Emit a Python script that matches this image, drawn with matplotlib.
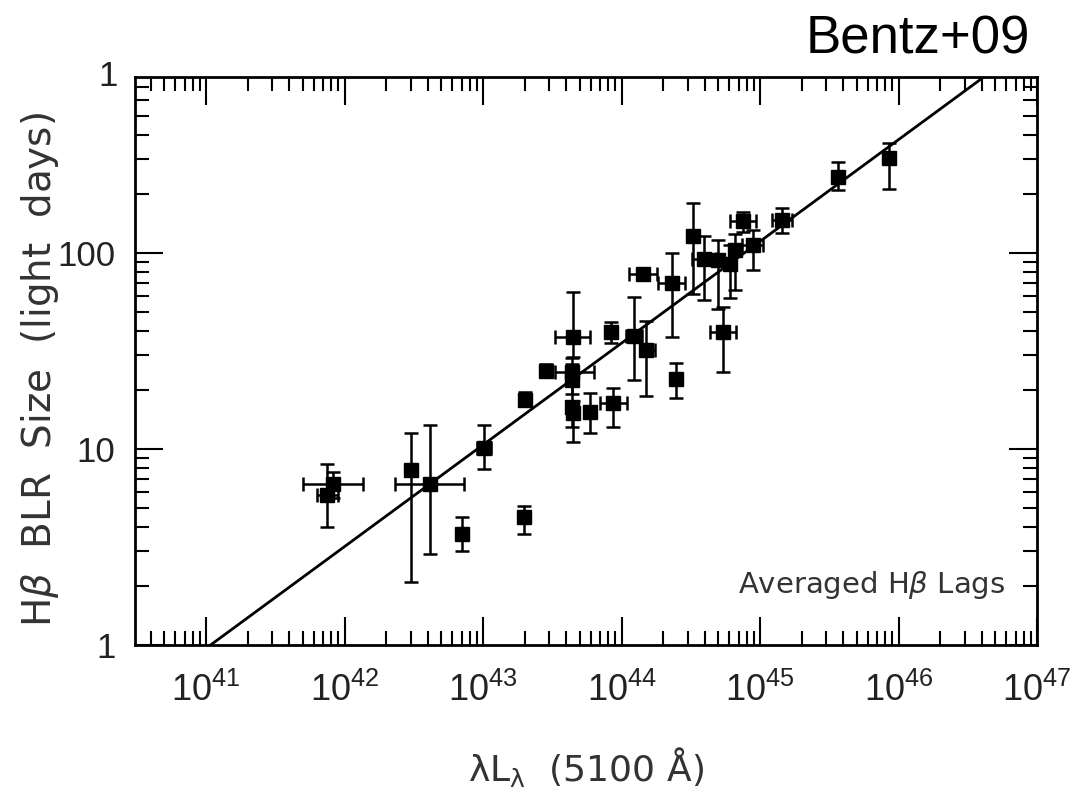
import numpy as np
import matplotlib
matplotlib.use("Agg")
import matplotlib.pyplot as plt
from matplotlib import font_manager
from matplotlib.ticker import LogLocator, FixedLocator, NullFormatter

# ---------------- data ----------------
log_lum = [41.871, 41.915, 42.478, 42.617, 43.007, 42.846, 43.296, 43.30, 43.455,
           43.647, 43.64, 43.645, 43.645, 43.65, 43.773, 43.936, 43.924, 44.09,
           44.18, 44.394, 44.157, 44.363, 44.518, 44.596, 44.699, 44.78, 44.82,
           44.73, 44.88, 44.947, 45.157, 45.566, 45.933]
lag = [5.8, 6.6, 7.8, 6.6, 10.1, 3.7, 4.5, 17.8, 25.1,
       37.4, 24.8, 22.5, 16.4, 15.3, 15.5, 17.2, 39.7, 37.7,
       32.0, 22.7, 78.0, 70.0, 122.0, 93.0, 92.0, 88.0, 103.6,
       39.7, 145.0, 110.0, 147.0, 245.0, 304.0]
lag_lo = [4.0, 5.6, 2.1, 2.9, 7.9, 3.0, 3.7, 16.5, 23.5,
          29.6, 21.0, 19.0, 13.0, 10.9, 12.1, 13.0, 34.9, 22.5,
          18.6, 18.1, 74.0, 37.4, 62.0, 57.5, 51.6, 58.7, 64.7,
          24.8, 128.0, 82.0, 127.0, 210.0, 211.0]
lag_hi = [8.4, 7.6, 12.0, 13.3, 13.3, 4.5, 5.1, 19.5, 27.0,
          63.0, 29.0, 27.0, 21.0, 17.5, 19.3, 20.4, 44.5, 59.7,
          45.0, 27.4, 83.0, 99.6, 180.0, 122.0, 116.0, 110.0, 125.0,
          53.2, 162.0, 131.0, 169.0, 292.0, 365.0]
log_lum_lo = [41.80, 41.70, None, 42.365, 42.96, None, None, None, 43.42,
              43.52, 43.52, None, None, 43.61, None, 43.845, 43.89, 44.03,
              44.13, None, 44.056, 44.26, None, 44.51, None, None, None,
              44.64, 44.78, 44.87, 45.085, None, None]
log_lum_hi = [41.95, 42.13, None, 42.863, 43.06, None, None, None, 43.50,
              43.77, 43.80, None, None, 43.69, None, 44.04, 43.96, 44.15,
              44.24, None, 44.258, 44.46, None, 44.68, None, None, None,
              44.83, 44.97, 45.02, 45.23, None, None]

fit_K = 1.54      # log lag at 1e44 erg/s
fit_alpha = 0.519
fit_pivot = 44.0

x_ticks = [1e41, 1e42, 1e43, 1e44, 1e45, 1e46, 1e47]
x_tick_labels = ["41", "42", "43", "44", "45", "46", "47"]
y_ticks = [1, 10, 100]
y_tick_labels = ["1", "10", "100"]

# ---------------- fonts ----------------
avail = {f.name for f in font_manager.fontManager.ttflist}
narrow = "Liberation Sans Narrow" if "Liberation Sans Narrow" in avail else "Liberation Sans"

fig = plt.figure(figsize=(10.76, 7.93), dpi=100)
ax = fig.add_axes([135 / 1076, 1 - 645 / 793, (1037 - 135) / 1076, (645 - 77) / 793])
ax.set_xscale("log")
ax.set_yscale("log")
ax.set_xlim(3.07e40, 1e47)
ax.set_ylim(1, 790)

L = 10 ** np.array(log_lum)
R = np.array(lag)
ylo = R - np.array(lag_lo)
yhi = np.array(lag_hi) - R

has_x = np.array([v is not None for v in log_lum_lo])
xl = np.array([10 ** v if v is not None else np.nan for v in log_lum_lo])
xh = np.array([10 ** v if v is not None else np.nan for v in log_lum_hi])

kw = dict(fmt="s", color="black", ms=10.5, capsize=5, elinewidth=1.8,
          capthick=1.8, mec="black", zorder=3)
ax.errorbar(L[has_x], R[has_x], yerr=[ylo[has_x], yhi[has_x]],
            xerr=[L[has_x] - xl[has_x], xh[has_x] - L[has_x]], **kw)
ax.errorbar(L[~has_x], R[~has_x], yerr=[ylo[~has_x], yhi[~has_x]], **kw)

# best-fit line
lx = np.linspace(40.0, 47.5, 200)
ax.plot(10 ** lx, 10 ** (fit_K + fit_alpha * (lx - fit_pivot)),
        color="black", lw=2, zorder=2)

# axes styling
for s in ax.spines.values():
    s.set_linewidth(2)
ax.tick_params(which="both", direction="in", top=True, right=True, width=1.5,
               color="black")
ax.tick_params(which="major", length=20)
ax.tick_params(which="minor", length=10)
ax.xaxis.set_major_locator(FixedLocator(x_ticks))
ax.xaxis.set_minor_locator(LogLocator(base=10, subs=np.arange(2, 10), numticks=50))
ax.yaxis.set_major_locator(FixedLocator(y_ticks))
ax.yaxis.set_minor_locator(LogLocator(base=10, subs=np.arange(2, 10), numticks=50))
ax.xaxis.set_minor_formatter(NullFormatter())
ax.yaxis.set_minor_formatter(NullFormatter())
ax.set_xticks(x_ticks)
ax.set_xticklabels([r"$\mathregular{10^{%s}}$" % t for t in x_tick_labels])
ax.set_yticks(y_ticks)
ax.set_yticklabels(y_tick_labels)
for lab in ax.get_xticklabels():
    lab.set_fontfamily(narrow)
    lab.set_fontsize(26)
    lab.set_color("#222222")
for lab in ax.get_yticklabels():
    lab.set_fontfamily(narrow)
    lab.set_fontsize(25)
    lab.set_color("#222222")
ax.tick_params(axis="x", which="major", pad=20)
ax.tick_params(axis="y", which="major", pad=14)

# stray top "1" label at the top-left
ax.text(-0.019, 1.0, "1", transform=ax.transAxes, ha="right", va="center",
        fontsize=25, family=narrow, color="#222222")

ax.set_ylabel(r"H$\beta$  BLR  Size  (light  days)", fontsize=28,
              color="#333333")
ax.yaxis.set_label_coords(-0.082, 0.485)
ax.set_xlabel(r"$\mathrm{\lambda L_\lambda}$  (5100 Å)", fontsize=26,
              color="#333333", labelpad=26)

ax.text(0.965, 0.105, r"Averaged H$\beta$ Lags", transform=ax.transAxes,
        ha="right", va="center", fontsize=21, color="#333333")

fig.text(1030 / 1076, 1 - 40 / 793, "Bentz+09", ha="right", va="center",
         fontsize=38, family=narrow, color="black")

fig.savefig("out.png", dpi=100)
